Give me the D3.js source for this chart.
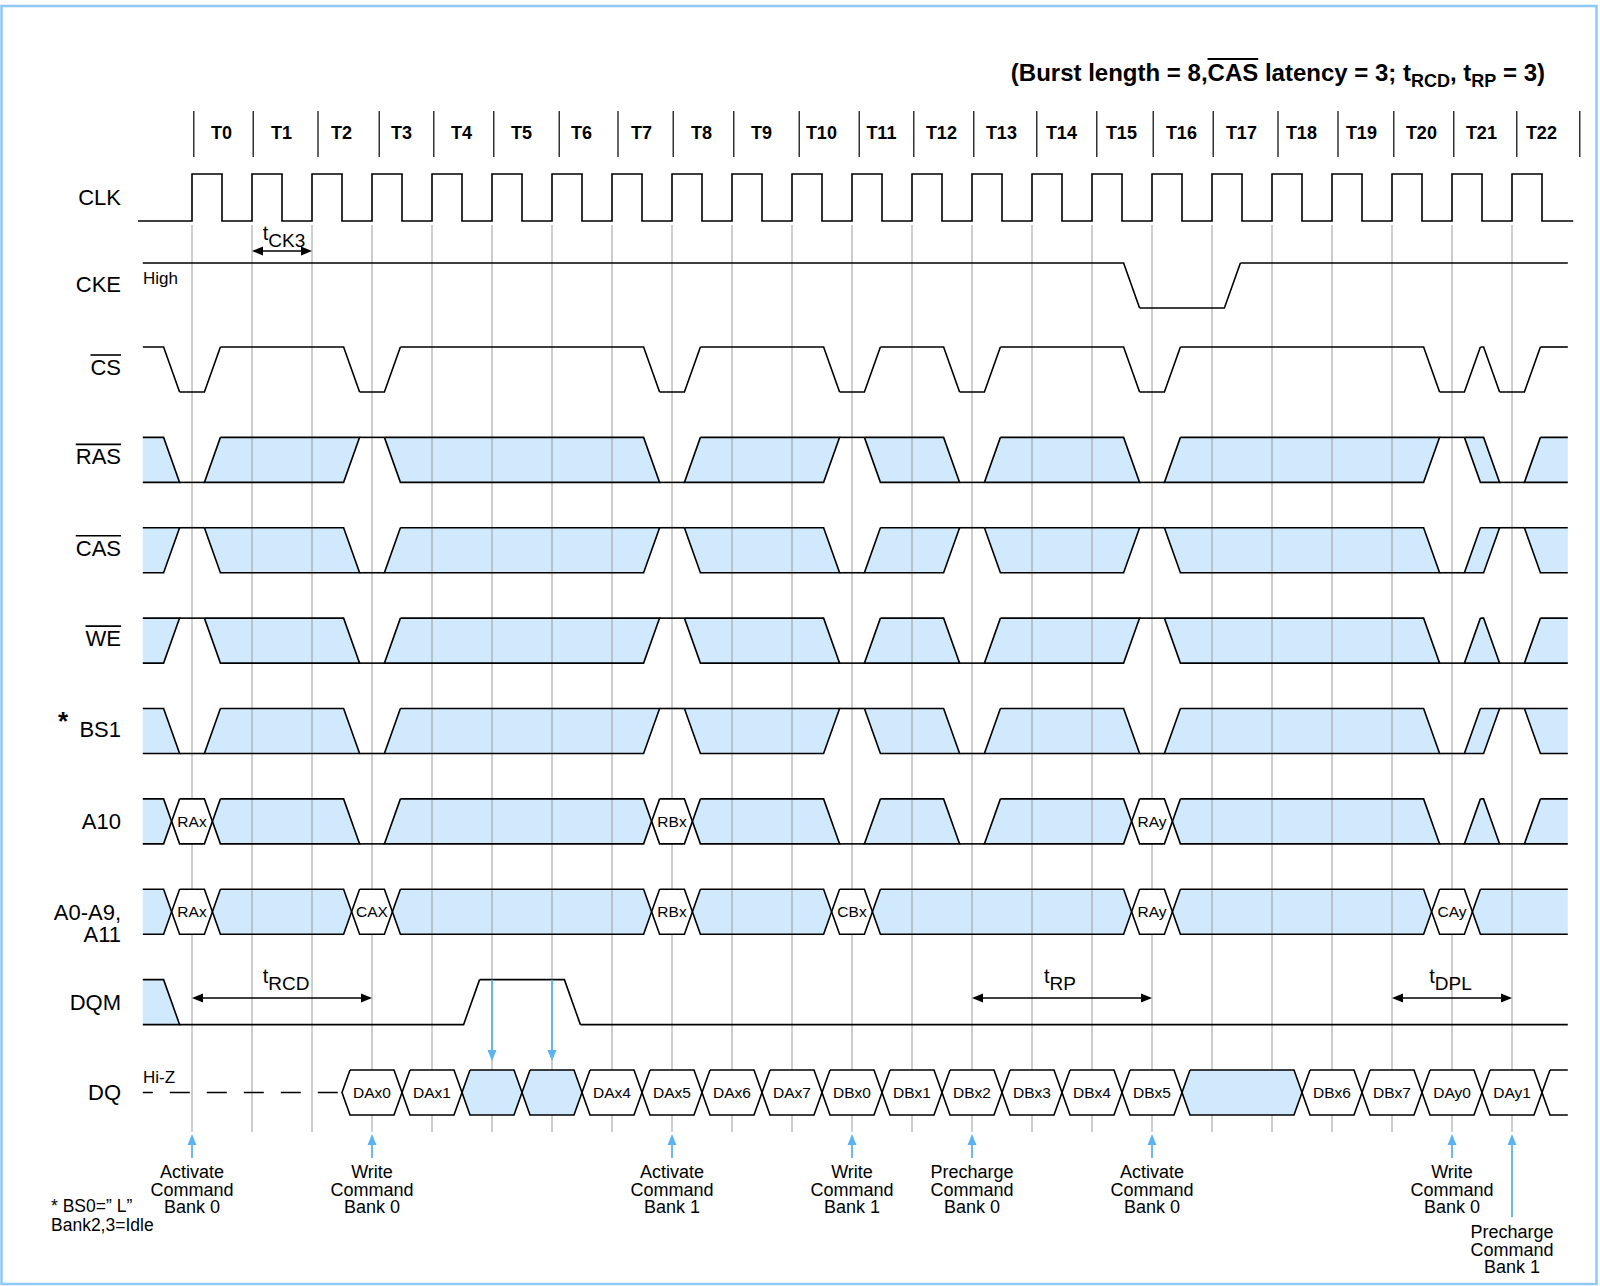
<!DOCTYPE html>
<html>
<head>
<meta charset="utf-8">
<script src="https://d3js.org/d3.v7.min.js"></script>
<style>
  body { margin:0; background:#fff; }
  text { font-family: "Liberation Sans", Arial, Helvetica, sans-serif; fill:#000; }
</style>
</head>
<body>
<script>
// ---- data ----------------------------------------------------------------
// clock edges and header labels
var cycles = [0,1,2,3,4,5,6,7,8,9,10,11,12,13,14,15,16,17,18,19,20,21,22];
var cycleLabels = ["T0","T1","T2","T3","T4","T5","T6","T7","T8","T9","T10","T11",
                   "T12","T13","T14","T15","T16","T17","T18","T19","T20","T21","T22"];
// header separators (in clock periods, as drawn)
var headerSeps = [0.03,1.02,2.1,3.12,4.03,5.03,6.12,7.1,8.02,9.03,10.12,11.12,12.03,
                  13.03,14.08,15.08,16.02,17.02,18.1,19.1,20.03,21.03,22.08,23.13];

// waveforms: [state, start time (clock periods), label]
// H/L = level, X = don't care, V = valid value, B = masked data, Z = hi-z
var ckeWave = [["H",-0.82],["L",15.66],["H",17.34]];
var csWave  = [["H",-0.82],["L",-0.34],["H",0.34],["L",2.66],["H",3.34],["L",7.66],["H",8.34],
               ["L",10.66],["H",11.34],["L",12.66],["H",13.34],["L",15.66],["H",16.34],
               ["L",20.66],["H",21.34],["L",21.66],["H",22.34]];
var rasWave = [["X",-0.82],["L",-0.34],["X",0.34],["H",2.66],["X",3.34],["L",7.66],["X",8.34],
               ["H",10.66],["X",11.34],["L",12.66],["X",13.34],["L",15.66],["X",16.34],
               ["H",20.66],["X",21.34],["L",21.66],["X",22.34]];
var casWave = [["X",-0.82],["H",-0.34],["X",0.34],["L",2.66],["X",3.34],["H",7.66],["X",8.34],
               ["L",10.66],["X",11.34],["H",12.66],["X",13.34],["H",15.66],["X",16.34],
               ["L",20.66],["X",21.34],["H",21.66],["X",22.34]];
var weWave  = [["X",-0.82],["H",-0.34],["X",0.34],["L",2.66],["X",3.34],["H",7.66],["X",8.34],
               ["L",10.66],["X",11.34],["L",12.66],["X",13.34],["H",15.66],["X",16.34],
               ["L",20.66],["X",21.34],["L",21.66],["X",22.34]];
var bs1Wave = [["X",-0.82],["L",-0.34],["X",0.34],["L",2.66],["X",3.34],["H",7.66],["X",8.34],
               ["H",10.66],["X",11.34],["L",12.66],["X",13.34],["L",15.66],["X",16.34],
               ["L",20.66],["X",21.34],["H",21.66],["X",22.34]];
var a10Wave = [["X",-0.82],["V",-0.34,"RAx"],["X",0.34],["L",2.66],["X",3.34],["V",7.66,"RBx"],
               ["X",8.34],["L",10.66],["X",11.34],["L",12.66],["X",13.34],["V",15.66,"RAy"],
               ["X",16.34],["L",20.66],["X",21.34],["L",21.66],["X",22.34]];
var addrWave = [["X",-0.82],["V",-0.34,"RAx"],["X",0.34],["V",2.66,"CAX"],["X",3.34],
                ["V",7.66,"RBx"],["X",8.34],["V",10.66,"CBx"],["X",11.34],["V",15.66,"RAy"],
                ["X",16.34],["V",20.66,"CAy"],["X",21.34]];
var dqmWave = [["X",-0.82],["L",-0.34],["H",4.66],["L",6.34]];
var dqWave  = [["Z",-0.82],["V",2.5,"DAx0"],["V",3.5,"DAx1"],["B",4.5],["B",5.5],["V",6.5,"DAx4"],
               ["V",7.5,"DAx5"],["V",8.5,"DAx6"],["V",9.5,"DAx7"],["V",10.5,"DBx0"],
               ["V",11.5,"DBx1"],["V",12.5,"DBx2"],["V",13.5,"DBx3"],["V",14.5,"DBx4"],
               ["V",15.5,"DBx5"],["B",16.5],["V",18.5,"DBx6"],["V",19.5,"DBx7"],
               ["V",20.5,"DAy0"],["V",21.5,"DAy1"],["V",22.5,""]];

// commands under the diagram
var cmdEdges = [0,3,8,11,13,16,21,22];
var cmdNames = ["Activate","Write","Activate","Write","Precharge","Activate","Write","Precharge"];
var cmdBanks = ["Bank 0","Bank 0","Bank 1","Bank 1","Bank 0","Bank 0","Bank 0","Bank 1"];

// timing parameters
var timingNames = ["CK3","RCD","RP","DPL"];
var timingFrom  = [1,0,13,20];
var timingTo    = [2,3,16,22];
var timingText  = [1.18,1.18,14.2,20.62];

// DQM masked edges
var maskEdges = [5,6];

// ---- layout --------------------------------------------------------------
var FILL = "#d0e9fc", BLUE = "#5db3f1", GRID = "#9c9c9c";
var ROW_H = 45, HW = 8, WAVE_END = 22.93;

var x = d3.scaleLinear().domain([0, 22]).range([192, 1512]);
var rows = ["CS","RAS","CAS","WE","BS1","A10","ADDR","DQM","DQ"];
var rowY = d3.scalePoint().domain(rows).range([347, 1070]);
var waves = {CS: csWave, RAS: rasWave, CAS: casWave, WE: weWave, BS1: bs1Wave,
             A10: a10Wave, ADDR: addrWave, DQM: dqmWave, DQ: dqWave};

var svg = d3.select("body").append("svg").attr("width", 1600).attr("height", 1286);

svg.append("rect").attr("x", 1.5).attr("y", 6).attr("width", 1595).attr("height", 1278)
  .attr("fill", "none").attr("stroke", "#8cc8f8").attr("stroke-width", 2.5);

var gFill = svg.append("g"), gGrid = svg.append("g"), gHex = svg.append("g"),
    gLine = svg.append("g").attr("fill", "none").attr("stroke", "#000")
              .attr("stroke-width", 1.6).attr("stroke-linejoin", "miter"),
    gArrow = svg.append("g"), gText = svg.append("g");

// title
var title = gText.append("text").attr("x", 1545).attr("y", 81).attr("text-anchor", "end")
  .style("font-size", "24px").style("font-weight", "bold");
title.append("tspan").text("(Burst length = 8,CAS latency = 3; t");
title.append("tspan").attr("dy", 6).style("font-size", "18px").text("RCD");
title.append("tspan").attr("dy", -6).text(", t");
title.append("tspan").attr("dy", 6).style("font-size", "18px").text("RP");
title.append("tspan").attr("dy", -6).text(" = 3)");
overlineChars(title, 18, 20, 59);

function overlineChars(sel, i0, i1, y) {
  var a = sel.node().getExtentOfChar(i0), b = sel.node().getExtentOfChar(i1);
  gText.append("line").attr("x1", a.x).attr("x2", b.x + b.width).attr("y1", y).attr("y2", y)
    .attr("stroke", "#000").attr("stroke-width", 1.8);
}

// header
gLine.selectAll(".sep").data(headerSeps).join("line")
  .attr("x1", d => x(d)).attr("x2", d => x(d)).attr("y1", 111).attr("y2", 157)
  .attr("stroke-width", 1.2);
gText.selectAll(".tlab").data(cycles).join("text")
  .attr("x", d => x(d + 0.49)).attr("y", 139).attr("text-anchor", "middle")
  .style("font-size", "18px").style("font-weight", "bold")
  .text((d, i) => cycleLabels[i]);

// gridlines
gGrid.selectAll("line").data(cycles).join("line")
  .attr("x1", d => x(d)).attr("x2", d => x(d)).attr("y1", 225).attr("y2", 1132)
  .attr("stroke", GRID).attr("stroke-width", 1);

// CLK
var clk = "M" + x(-0.9) + ",221";
cycles.forEach(function(k) {
  clk += "L" + x(k) + ",221L" + x(k) + ",174L" + x(k + 0.5) + ",174L" + x(k + 0.5) + ",221";
});
clk += "L" + x(23.02) + ",221";
gLine.append("path").attr("d", clk);

// generic waveform
function drawWave(wave, top, end) {
  var hi = top, lo = top + ROW_H, mid = top + ROW_H / 2;
  wave.forEach(function(d, i) {
    var g = {s: d[0], t0: d[1], t1: i < wave.length - 1 ? wave[i + 1][1] : end, label: d[2],
             prev: i > 0 ? wave[i - 1][0] : null, next: i < wave.length - 1 ? wave[i + 1][0] : null};
    var x0 = x(g.t0), x1 = x(g.t1);
    if (g.s === "H" || g.s === "L") {
      var y = g.s === "H" ? hi : lo;
      var p = "M" + (g.prev ? x0 + HW : x0) + "," + y + "L" + (g.next ? x1 - HW : x1) + "," + y;
      if (g.next === "H" || g.next === "L") p += "L" + (x1 + HW) + "," + (g.next === "H" ? hi : lo);
      gLine.append("path").attr("d", p);
    } else if (g.s === "Z") {
      gLine.append("line").attr("x1", x0).attr("x2", x1).attr("y1", mid).attr("y2", mid)
        .attr("stroke-dasharray", "20,17").attr("stroke-dashoffset", 10);
    } else {
      var L, R;
      if (!g.prev) L = [[x0, hi], [x0, lo]];
      else if (g.prev === "L") L = [[x0 + HW, hi], [x0 - HW, lo]];
      else if (g.prev === "H") L = [[x0 - HW, hi], [x0 + HW, lo]];
      else L = [[x0 + HW, hi], [x0, mid], [x0 + HW, lo]];
      if (!g.next) R = [[x1, hi], [x1, lo]];
      else if (g.next === "L") R = [[x1 - HW, hi], [x1 + HW, lo]];
      else if (g.next === "H") R = [[x1 + HW, hi], [x1 - HW, lo]];
      else R = [[x1 - HW, hi], [x1, mid], [x1 - HW, lo]];
      var poly = "M" + [L[0]].concat(R, L.slice().reverse()).join("L") + "Z";
      (g.s === "X" ? gFill : gHex).append("path").attr("d", poly)
        .attr("fill", g.s === "V" ? "#fff" : FILL);
      var o = "M" + L[0] + "L" + R[0];
      o += g.next ? R.slice(1).map(q => "L" + q).join("") : "M" + R[R.length - 1];
      o += "L" + L[L.length - 1];
      if (g.prev) o += L.slice(0, -1).reverse().map(q => "L" + q).join("");
      gLine.append("path").attr("d", o);
      if (g.label) {
        gText.append("text").attr("x", (x0 + x1) / 2).attr("y", mid + 5.5)
          .attr("text-anchor", "middle").style("font-size", "15.5px").text(g.label);
      }
    }
  });
}

// CKE (level line only)
drawWave(ckeWave, 263, WAVE_END);
rows.forEach(function(r) { drawWave(waves[r], rowY(r), WAVE_END); });

// row labels
function rowLabel(txt, y, bar) {
  var t = gText.append("text").attr("x", 121).attr("y", y).attr("text-anchor", "end")
    .style("font-size", "22px").text(txt);
  if (bar) {
    var len = t.node().getComputedTextLength();
    gText.append("line").attr("x1", 121 - len).attr("x2", 121).attr("y1", y - 20).attr("y2", y - 20)
      .attr("stroke", "#000").attr("stroke-width", 1.6);
  }
}
rowLabel("CLK", 205, false);
rowLabel("CKE", 292, false);
rowLabel("CS", rowY("CS") + 28, true);
rowLabel("RAS", rowY("RAS") + 27, true);
rowLabel("CAS", rowY("CAS") + 28, true);
rowLabel("WE", rowY("WE") + 28, true);
rowLabel("BS1", rowY("BS1") + 28, false);
rowLabel("A10", rowY("A10") + 30, false);
rowLabel("A0-A9,", rowY("ADDR") + 31, false);
rowLabel("A11", rowY("ADDR") + 53, false);
rowLabel("DQM", rowY("DQM") + 30, false);
rowLabel("DQ", rowY("DQ") + 30, false);
gText.append("text").attr("x", 58).attr("y", 730).style("font-size", "26px")
  .style("font-weight", "bold").text("*");
gText.append("text").attr("x", 143).attr("y", 284).style("font-size", "17px").text("High");
gText.append("text").attr("x", 143).attr("y", 1083).style("font-size", "17px").text("Hi-Z");

// timing arrows
function headPath(tx, ty, dir, len, half, vertical) {
  if (vertical) return "M" + tx + "," + ty + "L" + (tx - half) + "," + (ty + dir * len) + "L" + (tx + half) + "," + (ty + dir * len) + "Z";
  return "M" + tx + "," + ty + "L" + (tx + dir * len) + "," + (ty - half) + "L" + (tx + dir * len) + "," + (ty + half) + "Z";
}
timingNames.forEach(function(n, i) {
  var y = i === 0 ? 251 : 998, base = i === 0 ? 240 : 983;
  var a = x(timingFrom[i]), b = x(timingTo[i]);
  gArrow.append("line").attr("x1", a + 4).attr("x2", b - 4).attr("y1", y).attr("y2", y)
    .attr("stroke", "#000").attr("stroke-width", 1.6);
  gArrow.append("path").attr("d", headPath(a, y, 1, 11, 4.5)).attr("fill", "#000");
  gArrow.append("path").attr("d", headPath(b, y, -1, 11, 4.5)).attr("fill", "#000");
  var t = gText.append("text").attr("x", x(timingText[i])).attr("y", base).style("font-size", "20px");
  t.append("tspan").text("t");
  t.append("tspan").attr("dy", 7).style("font-size", "19px").text(n);
});

// DQM mask arrows
maskEdges.forEach(function(k) {
  var y0 = rowY("DQM"), tip = rowY("DQ") - 9;
  gArrow.append("line").attr("x1", x(k)).attr("x2", x(k)).attr("y1", y0).attr("y2", tip - 8)
    .attr("stroke", BLUE).attr("stroke-width", 1.8);
  gArrow.append("path").attr("d", headPath(x(k), tip, -1, 11, 4.5, true)).attr("fill", BLUE);
});

// command arrows and labels
cmdEdges.forEach(function(k, i) {
  var low = i === cmdEdges.length - 1, tip = 1134, end = low ? 1217 : 1158;
  gArrow.append("line").attr("x1", x(k)).attr("x2", x(k)).attr("y1", tip + 8).attr("y2", end)
    .attr("stroke", BLUE).attr("stroke-width", 1.8);
  gArrow.append("path").attr("d", headPath(x(k), tip, 1, 11, 4.5, true)).attr("fill", BLUE);
  var b = low ? 1238 : 1178;
  [cmdNames[i], "Command", cmdBanks[i]].forEach(function(s, j) {
    gText.append("text").attr("x", x(k)).attr("y", b + j * 17.5).attr("text-anchor", "middle")
      .style("font-size", "18px").text(s);
  });
});

// footnote
gText.append("text").attr("x", 51).attr("y", 1212).style("font-size", "17.5px").text("* BS0=\u201D L\u201D");
gText.append("text").attr("x", 51).attr("y", 1231).style("font-size", "17.5px").text("Bank2,3=Idle");
</script>
</body>
</html>
